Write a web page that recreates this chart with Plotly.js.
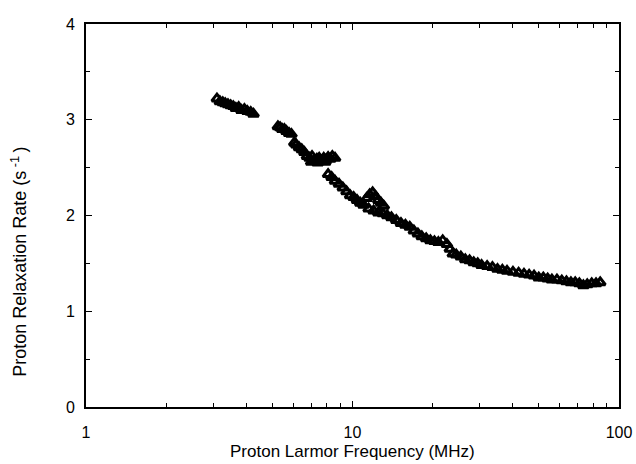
<!DOCTYPE html>
<html>
<head>
<meta charset="utf-8">
<script src="https://cdn.plot.ly/plotly-3.0.1.min.js"></script>
<style>html,body{margin:0;padding:0;background:#fff;}</style>
</head>
<body>
<div id="chart" style="width:636px;height:464px;"></div>
<script>
// Proton Larmor frequency (MHz)
const frequency = [
  3.10, 3.18, 3.26, 3.33, 3.41, 3.49, 3.57, 3.65, 3.74, 3.83, 3.93, 4.03, 4.15, 4.25,
  5.25, 5.35, 5.45, 5.55, 5.65, 5.78, 5.90,
  6.05, 6.15, 6.30, 6.45, 6.60, 6.75, 6.90, 7.05, 7.20, 7.35, 7.50, 7.65, 7.80, 7.95, 8.10, 8.25, 8.40, 8.60, 7.00, 7.40, 7.90,
  8.10, 8.35, 8.60, 8.90, 9.20, 9.50, 9.80, 10.1, 10.4, 10.7, 11.0,
  11.3, 11.6, 11.9, 12.2, 12.5, 12.8, 13.1,
  11.5, 12.0, 12.5, 13.0, 13.5,
  14.0, 14.6, 15.2, 15.8, 16.4, 17.0, 17.6, 18.2, 18.9, 19.6, 20.3, 21.0, 21.8, 22.6, 23.2, 23.8,
  24.5, 25.5, 26.5, 27.5, 28.5, 29.5, 30.5, 32.0, 33.5, 35.0, 36.5, 38.0, 40.0, 42.0, 44.0, 46.0, 48.0,
  50.0, 52.0, 54.0, 56.0, 58.5, 61.0, 63.5, 66.0, 68.5, 71.0, 73.5, 76.0, 79.0, 82.0, 85.0
];
// Proton relaxation rate (1/s)
const rate = [
  3.22, 3.19, 3.18, 3.17, 3.16, 3.15, 3.14, 3.12, 3.13, 3.10, 3.11, 3.09, 3.08, 3.06,
  2.93, 2.92, 2.90, 2.90, 2.88, 2.86, 2.85,
  2.76, 2.74, 2.71, 2.69, 2.66, 2.62, 2.60, 2.62, 2.58, 2.59, 2.60, 2.57, 2.60, 2.58, 2.61, 2.59, 2.62, 2.60, 2.56, 2.55, 2.56,
  2.43, 2.40, 2.36, 2.33, 2.29, 2.25, 2.21, 2.19, 2.16, 2.13, 2.11,
  2.18, 2.22, 2.24, 2.20, 2.16, 2.13, 2.10,
  2.07, 2.05, 2.03, 2.02, 2.00,
  1.98, 1.95, 1.92, 1.90, 1.88, 1.84, 1.81, 1.78, 1.76, 1.74, 1.73, 1.72, 1.74, 1.70, 1.65, 1.60,
  1.59, 1.57, 1.54, 1.53, 1.51, 1.50, 1.48, 1.47, 1.46, 1.44, 1.43, 1.42, 1.41, 1.40, 1.39, 1.38, 1.37,
  1.35, 1.35, 1.34, 1.33, 1.33, 1.32, 1.31, 1.30, 1.30, 1.29, 1.27, 1.28, 1.29, 1.29, 1.30
];
const xTickVals = [1, 10, 100];
const xTickText = ['1', '10', '100'];
const xMinorVals = [2, 3, 4, 5, 6, 7, 8, 9, 20, 30, 40, 50, 60, 70, 80, 90];
const yTickVals = [0, 1, 2, 3, 4];
const xTitle = 'Proton Larmor Frequency (MHz)';
const yTitle = 'Proton Relaxation Rate (s<sup> -1 </sup>)';

const font = {family: 'Liberation Sans, Arial, sans-serif', color: '#000'};

const trace = {
  x: frequency,
  y: rate,
  type: 'scatter',
  mode: 'markers',
  marker: {
    symbol: 'triangle-up-open',
    size: 9,
    color: '#000',
    line: {color: '#000', width: 3}
  },
  hoverinfo: 'x+y'
};

const layout = {
  width: 636,
  height: 464,
  margin: {l: 86, r: 17, t: 24, b: 57},
  paper_bgcolor: '#fff',
  plot_bgcolor: '#fff',
  showlegend: false,
  font: Object.assign({size: 16}, font),
  xaxis: {
    type: 'log',
    range: [0, 2],
    tickmode: 'array',
    tickvals: xTickVals,
    ticktext: xTickText,
    ticks: 'inside',
    ticklen: 6,
    tickwidth: 1.2,
    tickcolor: '#000',
    minor: {tickmode: 'array', tickvals: xMinorVals, ticks: 'inside', ticklen: 4, tickwidth: 1, tickcolor: '#000'},
    showline: true,
    linecolor: '#000',
    linewidth: 2,
    mirror: 'ticks',
    showgrid: false,
    zeroline: false,
    tickfont: Object.assign({size: 16}, font),
    ticklabelstandoff: 10
  },
  yaxis: {
    range: [0, 4],
    tickmode: 'array',
    tickvals: yTickVals,
    ticks: 'inside',
    ticklen: 6,
    tickwidth: 1.2,
    tickcolor: '#000',
    minor: {dtick: 0.5, ticks: 'inside', ticklen: 4, tickwidth: 1, tickcolor: '#000'},
    showline: true,
    linecolor: '#000',
    linewidth: 2,
    mirror: 'ticks',
    showgrid: false,
    zeroline: false,
    tickfont: Object.assign({size: 16}, font),
    ticklabelstandoff: 6
  },
  annotations: [
    {
      text: xTitle, xref: 'paper', yref: 'paper', x: 0.5, y: -0.117,
      xanchor: 'center', yanchor: 'middle', showarrow: false,
      font: Object.assign({size: 17}, font)
    },
    {
      text: yTitle, xref: 'paper', yref: 'paper', x: -0.125, y: 0.38,
      xanchor: 'center', yanchor: 'middle', showarrow: false, textangle: -90,
      font: Object.assign({size: 18}, font)
    }
  ]
};

Plotly.newPlot('chart', [trace], layout, {displayModeBar: false, staticPlot: true});
</script>
</body>
</html>
